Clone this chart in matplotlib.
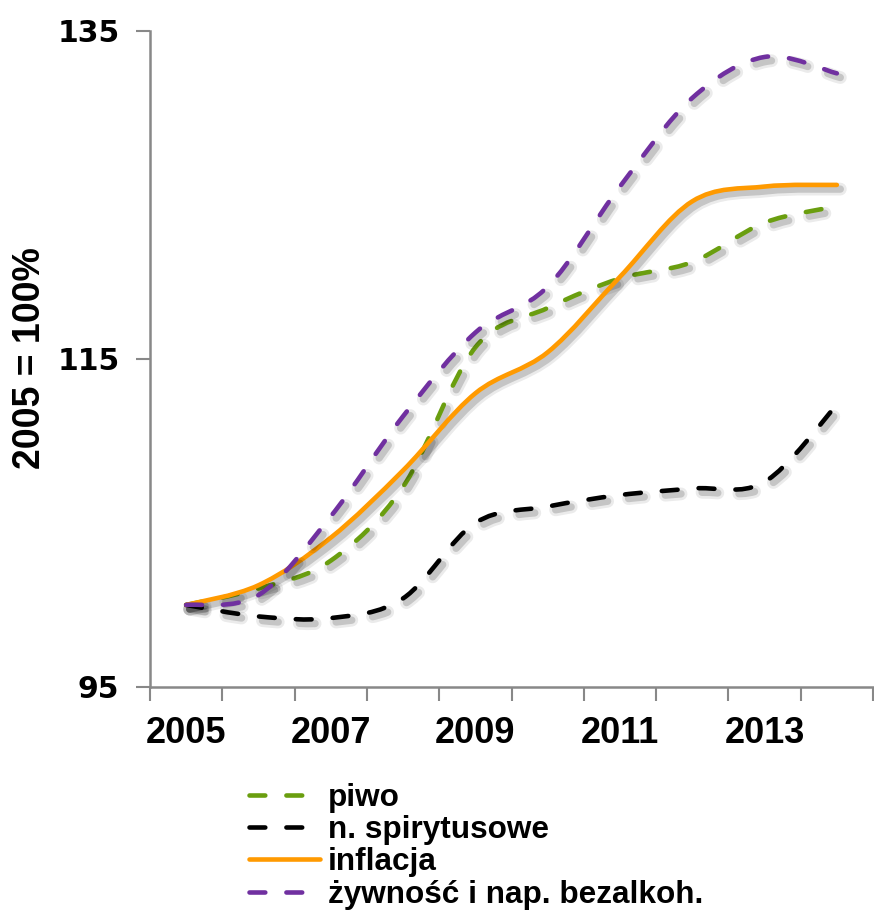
import matplotlib
matplotlib.use("Agg")
import matplotlib.pyplot as plt
from matplotlib.path import Path
from matplotlib.patches import PathPatch
from matplotlib.lines import Line2D
import matplotlib.patheffects as pe
import numpy as np

plt.rcParams['font.family'] = ['Liberation Sans', 'DejaVu Sans']
plt.rcParams['font.weight'] = 'bold'

years = [2005, 2006, 2007, 2008, 2009, 2010, 2011, 2012, 2013, 2014]
year_labels = ['2005', '', '2007', '', '2009', '', '2011', '', '2013', '']
piwo = [100, 101.0, 102.7, 107.2, 115.7, 118.1, 119.9, 120.9, 123.3, 124.3]
spirytusowe = [100, 99.3, 99.2, 100.4, 105.0, 106.0, 106.7, 107.1, 107.5, 112.2]
inflacja = [100, 101.2, 104.1, 108.2, 112.9, 115.4, 120.0, 124.6, 125.5, 125.6]
zywnosc = [100, 100.6, 105.4, 111.5, 116.6, 119.4, 125.5, 130.9, 133.4, 132.4]

series_names = ['piwo', 'n. spirytusowe', 'inflacja', 'żywność i nap. bezalkoh.']
series_vals = [piwo, spirytusowe, inflacja, zywnosc]
colors = ['#6a9e0f', '#000000', '#ff9a00', '#7030a0']
dashed = [True, True, False, True]

LW = 3.3
DASH = (3.45, 4.6)

fig = plt.figure(figsize=(8.74, 9.13), dpi=100)
L, R, T, B = 150 / 874, 873 / 874, 1 - 30.7 / 913, 1 - 687 / 913
ax = fig.add_axes([L, B, R - L, T - B])

x = np.arange(len(years), dtype=float)


def smooth_path(xs, ys):
    pts = np.column_stack([xs, ys]).astype(float)
    n = len(pts)
    verts = [pts[0]]
    codes = [Path.MOVETO]
    for i in range(n - 1):
        p0 = pts[i - 1] if i > 0 else pts[i]
        p1 = pts[i]
        p2 = pts[i + 1]
        p3 = pts[i + 2] if i + 2 < n else pts[i + 1]
        c1 = p1 + (p2 - p0) / 6.0
        c2 = p2 - (p3 - p1) / 6.0
        verts += [c1, c2, p2]
        codes += [Path.CURVE4] * 3
    return Path(np.array(verts), codes)


shadow = [pe.SimpleLineShadow(offset=(2.5, -3), shadow_color='k', alpha=0.08, linewidth=LW * 2.8),
          pe.SimpleLineShadow(offset=(2.5, -3), shadow_color='k', alpha=0.16, linewidth=LW * 1.6),
          pe.Normal()]

for vals, c, d in zip(series_vals, colors, dashed):
    patch = PathPatch(smooth_path(x, vals), fill=False, edgecolor=c, linewidth=LW,
                      linestyle=(0, DASH) if d else '-', capstyle='round', joinstyle='round',
                      transform=ax.transData, zorder=3)
    patch.set_path_effects(shadow)
    ax.add_patch(patch)

ax.set_xlim(-0.5, len(years) - 0.5)
ax.set_ylim(95, 135)
ax.set_yticks([95, 115, 135])
ax.set_yticklabels(['95', '115', '135'], fontfamily='DejaVu Sans', fontweight='bold', fontsize=21.5)

ax.set_xticks(x)
ax.set_xticklabels(year_labels, fontsize=26, fontweight='bold')
ax.set_xticks(np.arange(-0.5, len(years), 1.0), minor=True)
ax.tick_params(axis='x', which='major', length=0, pad=21)
ax.tick_params(axis='x', which='minor', length=10, width=1.5, color='#888888', direction='out')
ax.tick_params(axis='y', which='major', length=10, width=1.5, color='#888888', direction='out', pad=12)

for s in ['top', 'right']:
    ax.spines[s].set_visible(False)
for s in ['left', 'bottom']:
    ax.spines[s].set_color('#888888')
    ax.spines[s].set_linewidth(1.8)

fig.text(30 / 874, 1 - 358 / 913, '2005 = 100%', rotation=90, ha='center', va='center',
         fontsize=27, fontweight='bold')

handles = [Line2D([], [], color=c, lw=LW, linestyle=(0, DASH) if d else '-',
                  dash_capstyle='round', solid_capstyle='round')
           for c, d in zip(colors, dashed)]
leg = fig.legend(handles, series_names, loc='upper left',
                 bbox_to_anchor=(249 / 874, 1 - 783 / 913), bbox_transform=fig.transFigure,
                 frameon=False, borderpad=0, borderaxespad=0, handlelength=2.25,
                 handletextpad=0.25, labelspacing=0.07, prop={'size': 22.7, 'weight': 'bold'})

fig.savefig('out.png', dpi=100)
